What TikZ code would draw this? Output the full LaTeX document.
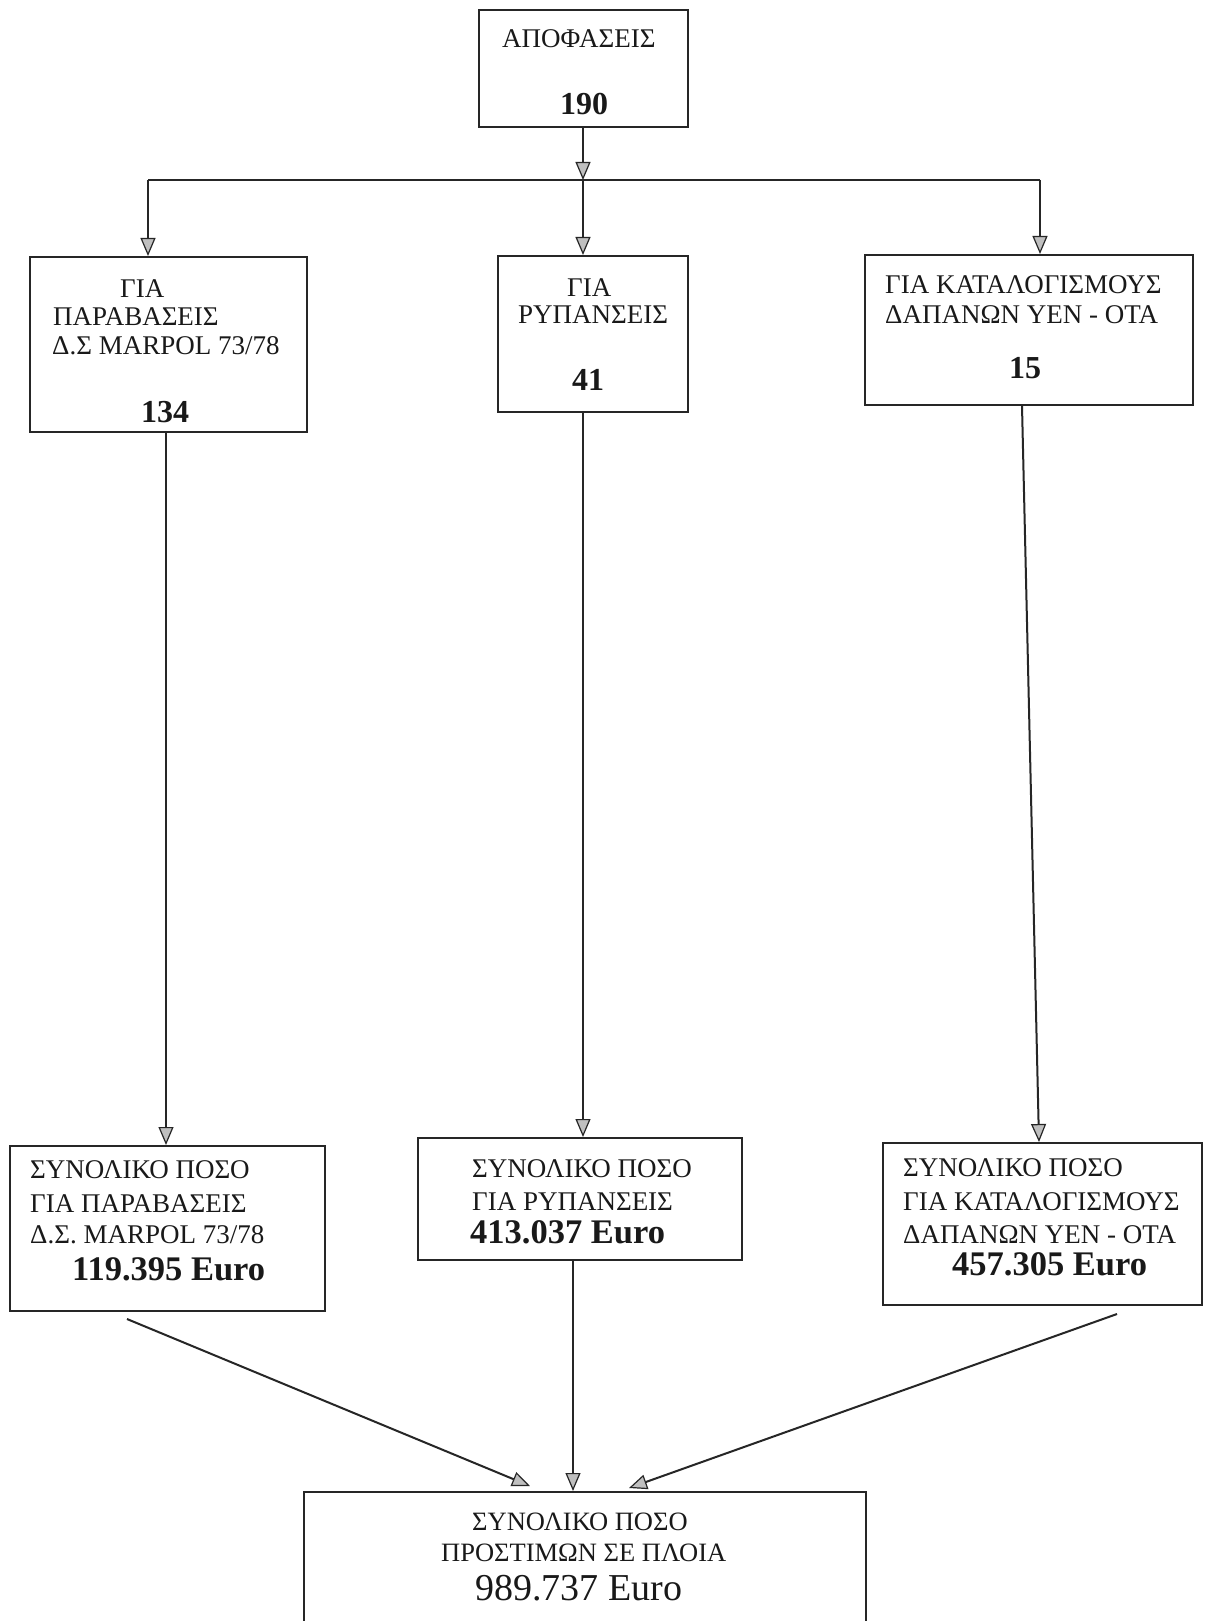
\documentclass[tikz,border=0pt]{standalone}
\usepackage{fontspec}
\setmainfont{Liberation Serif}
\usetikzlibrary{arrows.meta}
\begin{document}
\begin{tikzpicture}[x=1pt,y=-1pt,
  box/.style={draw=black!85, line width=2pt, inner sep=0pt, fill=none},
  txt/.style={anchor=base west, inner sep=0pt, text=black!90, font=\fontsize{27}{32}\selectfont},
  bigtxt/.style={anchor=base west, inner sep=0pt, text=black!90, font=\fontsize{26.5}{31}\selectfont},
  num/.style={anchor=base west, inner sep=0pt, text=black!90, font=\fontsize{32}{37}\selectfont\bfseries},
  eur/.style={anchor=base west, inner sep=0pt, text=black!90, font=\fontsize{34.5}{40}\selectfont\bfseries},
  toteur/.style={anchor=base west, inner sep=0pt, text=black!90, font=\fontsize{38}{43}\selectfont},
  line/.style={draw=black!85, line width=2pt},
  arr/.style={draw=black!85, line width=2pt, -{Triangle[width=15pt,length=18pt,fill=gray!50,line width=1.2pt]}}
]
\useasboundingbox (0,0) rectangle (1204,1621);
\fill[white] (0,0) rectangle (1204,1621);

% boxes
\node[box, minimum width=209pt, minimum height=117pt] (top) at (583.5,68.5) {};
\node[box, minimum width=277pt, minimum height=175pt] (lbox) at (168.5,344.5) {};
\node[box, minimum width=190pt, minimum height=156pt] (mbox) at (593,334) {};
\node[box, minimum width=328pt, minimum height=150pt] (rbox) at (1029,330) {};
\node[box, minimum width=315pt, minimum height=165pt] (lsum) at (167.5,1228.5) {};
\node[box, minimum width=324pt, minimum height=122pt] (msum) at (580,1199) {};
\node[box, minimum width=319pt, minimum height=162pt] (rsum) at (1042.5,1224) {};
\begin{scope}
\clip (0,0) rectangle (1204,1621);
\node[box, minimum width=562pt, minimum height=160pt] (total) at (585,1572) {};
\end{scope}

% texts
\node[txt] (t1) at (502,48) {ΑΠΟΦΑΣΕΙΣ};
\node[num] (t2) at (560,115) {190};

\node[txt] (l1) at (120,297) {ΓΙΑ};
\node[txt] (l2) at (53,325) {ΠΑΡΑΒΑΣΕΙΣ};
\node[txt] (l3) at (52,354) {Δ.Σ MARPOL 73/78};
\node[num] (l4) at (141,422) {134};

\node[txt] (m1) at (567,296) {ΓΙΑ};
\node[txt] (m2) at (518,323) {ΡΥΠΑΝΣΕΙΣ};
\node[num] (m3) at (572,390) {41};

\node[txt] (r1) at (885,293) {ΓΙΑ ΚΑΤΑΛΟΓΙΣΜΟΥΣ};
\node[txt] (r2) at (885,323) {ΔΑΠΑΝΩΝ ΥΕΝ - ΟΤΑ};
\node[num] (r3) at (1009,378) {15};

\node[txt] (ls1) at (30,1178) {ΣΥΝΟΛΙΚΟ ΠΟΣΟ};
\node[txt] (ls2) at (30,1212) {ΓΙΑ ΠΑΡΑΒΑΣΕΙΣ};
\node[txt] (ls3) at (30,1243) {Δ.Σ. MARPOL 73/78};
\node[eur] (ls4) at (72,1280) {119.395 Euro};

\node[txt] (ms1) at (472,1177) {ΣΥΝΟΛΙΚΟ ΠΟΣΟ};
\node[txt] (ms2) at (472,1210) {ΓΙΑ ΡΥΠΑΝΣΕΙΣ};
\node[eur] (ms3) at (470,1243) {413.037 Euro};

\node[txt] (rs1) at (903,1176) {ΣΥΝΟΛΙΚΟ ΠΟΣΟ};
\node[txt] (rs2) at (903,1210) {ΓΙΑ ΚΑΤΑΛΟΓΙΣΜΟΥΣ};
\node[txt] (rs3) at (903,1243) {ΔΑΠΑΝΩΝ ΥΕΝ - ΟΤΑ};
\node[eur] (rs4) at (952,1275) {457.305 Euro};

\node[bigtxt] (tt1) at (472,1530) {ΣΥΝΟΛΙΚΟ ΠΟΣΟ};
\node[bigtxt] (tt2) at (441,1561) {ΠΡΟΣΤΙΜΩΝ ΣΕ ΠΛΟΙΑ};
\node[toteur] (tt3) at (475,1600) {989.737 Euro};

% connectors
\coordinate (jm) at (583,180);
\coordinate (jl) at (148,180);
\coordinate (jr) at (1040,180);
\draw[arr] (top.south -| jm) -- (jm);
\draw[line] (jl) -- (jr);
\draw[arr] (jl) -- (lbox.north -| jl);
\draw[arr] (jm) -- (mbox.north -| jm);
\draw[arr] (jr) -- (rbox.north -| jr);

\coordinate (lo) at (166,0);
\coordinate (mo) at (583,0);
\coordinate (ro) at (1022,0);
\coordinate (ri) at (1039,0);
\draw[arr] (lbox.south -| lo) -- (lsum.north -| lo);
\draw[arr] (mbox.south -| mo) -- (msum.north -| mo);
\draw[arr] (rbox.south -| ro) -- (rsum.north -| ri);

\coordinate (a1) at (127,1319);
\coordinate (a1e) at (530,1486);
\coordinate (a3) at (1117,1314);
\coordinate (a3e) at (629,1488);
\coordinate (mt) at (573,0);
\draw[arr] (a1) -- (a1e);
\draw[arr] (msum.south -| mt) -- (total.north -| mt);
\draw[arr] (a3) -- (a3e);
\end{tikzpicture}
\end{document}
